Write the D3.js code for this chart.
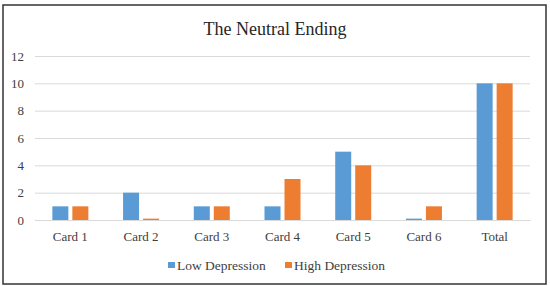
<!DOCTYPE HTML>
<html>
<head>
<meta charset="utf-8">
<title>The Neutral Ending</title>
<style>
	body { margin: 0; background: #fff; }
	svg text { font-family: "Liberation Serif", "Times New Roman", serif; }
</style>
</head>
<body>
<div id="chart"></div>
<script src="https://cdnjs.cloudflare.com/ajax/libs/d3/7.8.5/d3.min.js"></script>
<script>
	// data
	var categories = ["Card 1", "Card 2", "Card 3", "Card 4", "Card 5", "Card 6", "Total"];
	var lowDepression = [1, 2, 1, 1, 5, 0.1, 10];
	var highDepression = [1, 0.1, 1, 3, 4, 1, 10];
	var seriesNames = ["Low Depression", "High Depression"];
	var yTicks = [0, 2, 4, 6, 8, 10, 12];
	var colors = ["#5B9BD5", "#ED7D31"];

	var serif = "'Liberation Serif', 'Times New Roman', serif";
	var width = 550, height = 286;
	var margin = {top: 56, right: 20, bottom: 66, left: 35};

	var svg = d3.select("#chart")
				.append("svg")
				.attr("width", width)
				.attr("height", height);

	// outer frame
	svg.append("rect")
		.attr("x", 3)
		.attr("y", 5)
		.attr("width", 543)
		.attr("height", 279)
		.attr("fill", "none")
		.attr("stroke", "#333")
		.attr("stroke-width", 1.5);

	var x = d3.scaleBand()
			.domain(categories)
			.range([margin.left, width - margin.right]);

	var y = d3.scaleLinear()
			.domain([0, 12])
			.range([height - margin.bottom, margin.top]);

	var xSub = d3.scaleBand()
			.domain([0, 1])
			.range([0, 36])
			.paddingInner(0.2);

	// gridlines + y labels
	var yAxis = svg.append("g")
			.attr("transform", "translate(" + margin.left + ",0)")
			.call(d3.axisLeft(y).tickValues(yTicks).tickSize(-(width - margin.left - margin.right)).tickPadding(11));
	yAxis.attr("font-family", serif).attr("font-size", 13);
	yAxis.select(".domain").remove();
	yAxis.selectAll("line").attr("stroke", "#d9d9d9");
	yAxis.selectAll("text").attr("fill", "#404040");

	// x axis
	var xAxis = svg.append("g")
			.attr("transform", "translate(0," + y(0) + ")")
			.call(d3.axisBottom(x).tickSize(0).tickPadding(12));
	xAxis.attr("font-family", serif).attr("font-size", 13);
	xAxis.select(".domain").attr("stroke", "#d9d9d9");
	xAxis.selectAll("text").attr("fill", "#404040");

	var rows = categories.map(function(c, i){
		return {cat: c, vals: [lowDepression[i], highDepression[i]]};
	});

	var groups = svg.selectAll("g.cat")
			.data(rows)
			.enter()
			.append("g")
			.attr("class", "cat")
			.attr("transform", function(d){
				return "translate(" + (x(d.cat) + x.bandwidth() / 2 - 18) + ",0)";
			});

	groups.selectAll("rect")
		.data(function(d){ return d.vals; })
		.enter()
		.append("rect")
		.attr("x", function(d, i){ return xSub(i); })
		.attr("width", xSub.bandwidth())
		.attr("y", function(d){ return y(d); })
		.attr("height", function(d){ return y(0) - y(d); })
		.attr("fill", function(d, i){ return colors[i]; });

	// title
	svg.append("text")
		.attr("x", width / 2)
		.attr("y", 34.5)
		.attr("text-anchor", "middle")
		.attr("font-family", serif)
		.attr("font-size", 18)
		.attr("fill", "#262626")
		.text("The Neutral Ending");

	// legend
	var legendX = [168, 285];
	var legend = svg.selectAll("g.legend")
			.data(seriesNames)
			.enter()
			.append("g")
			.attr("class", "legend")
			.attr("transform", function(d, i){ return "translate(" + legendX[i] + ",265)"; });
	legend.append("rect")
		.attr("x", 0)
		.attr("y", -3)
		.attr("width", 7)
		.attr("height", 6)
		.attr("fill", function(d, i){ return colors[i]; });
	legend.append("text")
		.attr("x", 9)
		.attr("y", 4.5)
		.attr("font-family", serif)
		.attr("font-size", 13.5)
		.attr("fill", "#404040")
		.text(function(d){ return d; });
</script>
</body>
</html>
